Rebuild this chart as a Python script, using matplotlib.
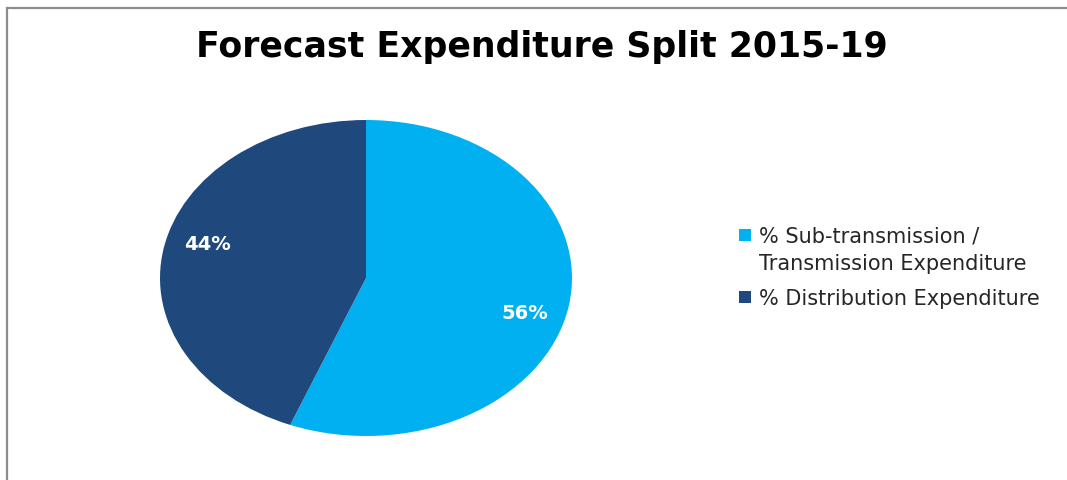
import matplotlib
matplotlib.use("Agg")
import matplotlib.pyplot as plt
import numpy as np
from matplotlib.patches import Rectangle

title = "Forecast Expenditure Split 2015-19"
categories = ["% Sub-transmission /\nTransmission Expenditure", "% Distribution Expenditure"]
shares = [56, 44]
colors = ["#00B0F0", "#1F497D"]

W, H = 1067, 481
fig = plt.figure(figsize=(W / 100, H / 100), dpi=100)
fig.patch.set_facecolor("white")


def fx(px):
    return px / W


def fy(py):
    return 1 - py / H


# chart frame, running off the right and bottom edges of the image
fig.patches.append(Rectangle((fx(7), -0.05), 1.05, 1.05 - 8.5 / H,
                             transform=fig.transFigure, fill=False,
                             edgecolor="#8C8C8C", linewidth=1.6))

fig.text(fx(542), fy(47), title, ha="center", va="center",
         fontsize=25, fontweight="bold", family="DejaVu Sans", color="black")

# the pie is drawn in a wider-than-tall box, giving the stretched ellipse
ax = fig.add_axes([fx(160), fy(437), fx(412), 316 / H])
wedges, _, autotexts = ax.pie(shares, colors=colors, startangle=90, counterclock=False,
                              autopct="%d%%", pctdistance=0.8,
                              textprops=dict(color="white", fontsize=14,
                                             fontweight="bold", family="DejaVu Sans"))
ax.set_aspect("auto")
ax.set_xlim(-1, 1)
ax.set_ylim(-1, 1)

# nudge each percentage label a few degrees clockwise along its wedge
for w, t in zip(wedges, autotexts):
    mid = np.deg2rad((w.theta1 + w.theta2) / 2 - 5)
    t.set_position((0.8 * np.cos(mid), 0.8 * np.sin(mid)))

# legend: square marker aligned with the first line of each entry
line_pitch = 27
entry_gap = 35
baseline = 243
for label, color in zip(categories, colors):
    lines = label.split("\n")
    fig.patches.append(Rectangle((fx(739), fy(baseline - 1)), fx(12), 12 / H,
                                 transform=fig.transFigure, facecolor=color,
                                 edgecolor="none"))
    for i, line in enumerate(lines):
        fig.text(fx(759), fy(baseline + i * line_pitch), line, ha="left",
                 va="baseline", fontsize=15, family="DejaVu Sans", color="#262626")
    baseline += (len(lines) - 1) * line_pitch + entry_gap

fig.savefig("out.png", dpi=100)
